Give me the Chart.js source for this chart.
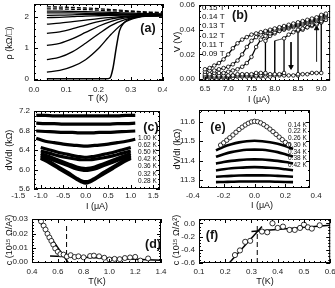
<!DOCTYPE html>
<html>
<head>
<meta charset="utf-8">
<script src="https://cdn.jsdelivr.net/npm/chart.js@4.4.1/dist/chart.umd.min.js"></script>
<style>
body{margin:0;background:#fff;width:335px;height:288px;position:relative;overflow:hidden;font-family:"Liberation Sans",Arial,sans-serif;color:#111}
canvas{position:absolute}
.t{position:absolute;white-space:nowrap;font-size:9px;line-height:1;transform:translate(-50%,-50%)}
.r{transform:translate(-50%,-50%) rotate(-90deg)}
.p{position:absolute;font-weight:bold;font-size:12.5px;line-height:1;transform:translate(-50%,-50%)}
.k{position:absolute;white-space:nowrap;font-size:6.5px;line-height:1;transform:translateY(-50%)}
.f{position:absolute;white-space:nowrap;font-size:8px;line-height:1;transform:translateY(-50%)}
</style>
</head>
<body>
<script>
// (a) resistivity vs temperature
const tA = [0.04, 0.08, 0.12, 0.16, 0.20, 0.24, 0.28, 0.32, 0.36, 0.40];
const rhoCurves = [
    [2.33, 2.32, 2.31, 2.29, 2.27, 2.24, 2.21, 2.18, 2.16, 2.14],
    [2.26, 2.26, 2.25, 2.24, 2.22, 2.20, 2.18, 2.16, 2.14, 2.13],
    [2.19, 2.19, 2.18, 2.17, 2.16, 2.15, 2.13, 2.12, 2.11, 2.10],
    [2.13, 2.13, 2.13, 2.12, 2.12, 2.11, 2.10, 2.09, 2.09, 2.08],
    [2.05, 2.06, 2.07, 2.08, 2.08, 2.08, 2.08, 2.08, 2.07, 2.07],
    [1.98, 1.99, 2.01, 2.03, 2.04, 2.05, 2.06, 2.06, 2.06, 2.06],
    [1.77, 1.80, 1.85, 1.90, 1.95, 1.99, 2.02, 2.04, 2.05, 2.05],
    [1.47, 1.52, 1.62, 1.74, 1.85, 1.94, 2.00, 2.03, 2.04, 2.05],
    [1.08, 1.15, 1.30, 1.50, 1.70, 1.86, 1.96, 2.02, 2.04, 2.04],
    [0.62, 0.70, 0.88, 1.15, 1.45, 1.73, 1.91, 2.00, 2.03, 2.04],
    [0.22, 0.27, 0.40, 0.62, 0.98, 1.45, 1.82, 1.98, 2.03, 2.04]
];
const tSc = [0.04, 0.10, 0.16, 0.20, 0.225, 0.235, 0.245, 0.255, 0.265, 0.28, 0.30, 0.33, 0.36, 0.40];
const rhoSc = [0, 0, 0, 0, 0, 0.02, 0.35, 1.0, 1.55, 1.82, 1.95, 2.02, 2.06, 2.08];

// (b) V-I curves
const fieldLabels = ['0.15 T', '0.14 T', '0.13 T', '0.12 T', '0.11 T', '0.09 T'];
const iB = [6.5, 6.6, 6.7, 6.8, 6.9, 7.0, 7.1, 7.2, 7.3, 7.4, 7.5, 7.6, 7.7, 7.8, 7.9, 8.0, 8.1, 8.2, 8.3, 8.4, 8.5, 8.6, 8.7, 8.8, 8.9, 9.0, 9.1];
const v15 = [0.008, 0.009, 0.011, 0.013, 0.016, 0.020, 0.025, 0.029, 0.032, 0.034, 0.036, 0.037, 0.038, 0.039, 0.040, 0.041, 0.042, 0.043, 0.044, 0.045, 0.046, 0.047, 0.048, 0.049, 0.050, 0.052, 0.053];
const v14 = [0.006, 0.007, 0.007, 0.008, 0.009, 0.010, 0.012, 0.015, 0.020, 0.026, 0.031, 0.034, 0.036, 0.038, 0.039, 0.040, 0.041, 0.042, 0.043, 0.044, 0.045, 0.046, 0.047, 0.048, 0.049, 0.051, 0.052];
const v13 = [0.004, 0.004, 0.005, 0.005, 0.005, 0.006, 0.007, 0.008, 0.010, 0.013, 0.018, 0.026, 0.032, 0.035, 0.037, 0.038, 0.039, 0.041, 0.042, 0.043, 0.044, 0.045, 0.046, 0.047, 0.048, 0.050, 0.051];
const i12 = [6.5, 6.6, 6.7, 6.8, 6.9, 7.0, 7.1, 7.2, 7.3, 7.4, 7.5, 7.6, 7.7, 7.8, 7.8, 7.9, 8.0, 8.1, 8.2, 8.3, 8.4, 8.5, 8.6, 8.7, 8.8, 8.9, 9.0, 9.1];
const v12 = [0.003, 0.003, 0.003, 0.003, 0.003, 0.003, 0.003, 0.004, 0.004, 0.004, 0.004, 0.005, 0.005, 0.005, 0.031, 0.035, 0.037, 0.039, 0.040, 0.041, 0.042, 0.043, 0.044, 0.045, 0.046, 0.047, 0.049, 0.050];
const i11 = [6.5, 6.6, 6.7, 6.8, 6.9, 7.0, 7.1, 7.2, 7.3, 7.4, 7.5, 7.6, 7.7, 7.8, 7.9, 8.0, 8.1, 8.2, 8.2, 8.3, 8.4, 8.5, 8.6, 8.7, 8.8, 8.9, 9.0, 9.1];
const v11 = [0.002, 0.002, 0.002, 0.002, 0.002, 0.002, 0.003, 0.003, 0.003, 0.003, 0.003, 0.003, 0.003, 0.004, 0.004, 0.004, 0.004, 0.005, 0.033, 0.036, 0.038, 0.040, 0.041, 0.042, 0.044, 0.045, 0.047, 0.048];
const i11Down = [8.2, 8.1, 8.0, 8.0];
const v11Down = [0.033, 0.032, 0.031, 0.004];
const i09 = [6.5, 6.6, 6.7, 6.8, 6.9, 7.0, 7.1, 7.2, 7.3, 7.4, 7.5, 7.6, 7.7, 7.8, 7.9, 8.0, 8.1, 8.2, 8.3, 8.4, 8.5, 8.6, 8.7, 8.8, 8.9, 9.0, 9.0, 9.1];
const v09 = [0.001, 0.001, 0.001, 0.001, 0.001, 0.001, 0.001, 0.002, 0.002, 0.002, 0.002, 0.002, 0.002, 0.002, 0.002, 0.003, 0.003, 0.003, 0.003, 0.003, 0.004, 0.004, 0.004, 0.005, 0.005, 0.005, 0.046, 0.048];
const i09Down = [9.0, 8.9, 8.8, 8.7, 8.6, 8.5, 8.5];
const v09Down = [0.046, 0.044, 0.043, 0.042, 0.040, 0.039, 0.003];
const arrowDownI = [8.35, 8.35];
const arrowDownV = [0.030, 0.010];
const arrowUpI = [8.9, 8.9];
const arrowUpV = [0.014, 0.041];

// (c) dV/dI vs I, wide current range
const tempLabelsC = ['1.00 K', '0.62 K', '0.50 K', '0.42 K', '0.36 K', '0.32 K', '0.28 K'];
const iC = [-1.1, -0.9, -0.7, -0.5, -0.3, -0.15, 0, 0.15, 0.3, 0.5, 0.7, 0.9, 1.1];
const flatC = [
    [7.11, 7.11, 7.10, 7.10, 7.10, 7.10, 7.10, 7.10, 7.10, 7.10, 7.10, 7.11, 7.11],
    [6.95, 6.94, 6.94, 6.93, 6.93, 6.93, 6.93, 6.93, 6.93, 6.93, 6.94, 6.94, 6.95],
    [6.79, 6.78, 6.77, 6.76, 6.76, 6.75, 6.75, 6.75, 6.76, 6.76, 6.77, 6.78, 6.79],
    [6.64, 6.58, 6.55, 6.52, 6.50, 6.49, 6.48, 6.49, 6.50, 6.52, 6.55, 6.58, 6.62]
];
const iC2 = [-1.0, -0.8, -0.6, -0.4, -0.2, -0.1, 0, 0.1, 0.2, 0.4, 0.6, 0.8, 1.0];
const dipC = [
    [6.45, 6.40, 6.35, 6.31, 6.27, 6.26, 6.25, 6.26, 6.27, 6.31, 6.35, 6.40, 6.45],
    [6.38, 6.33, 6.28, 6.24, 6.21, 6.20, 6.20, 6.20, 6.21, 6.24, 6.28, 6.33, 6.38],
    [6.33, 6.26, 6.19, 6.12, 6.05, 6.03, 6.02, 6.03, 6.05, 6.12, 6.19, 6.26, 6.33],
    [6.29, 6.22, 6.15, 6.08, 6.01, 5.99, 5.98, 5.99, 6.01, 6.08, 6.15, 6.22, 6.29],
    [6.26, 6.16, 6.05, 5.94, 5.82, 5.77, 5.75, 5.77, 5.82, 5.94, 6.05, 6.16, 6.26],
    [6.23, 6.13, 6.02, 5.91, 5.80, 5.75, 5.72, 5.75, 5.80, 5.91, 6.02, 6.13, 6.23]
];

// (e) dV/dI vs I, narrow current range
const tempLabelsE = ['0.14 K', '0.22 K', '0.26 K', '0.30 K', '0.34 K', '0.38 K', '0.42 K'];
const iE14 = [-0.22, -0.20, -0.18, -0.16, -0.14, -0.12, -0.10, -0.08, -0.06, -0.04, -0.02, 0, 0.02, 0.04, 0.06, 0.08, 0.10, 0.12, 0.14, 0.16, 0.18, 0.20, 0.22];
const dvE14 = [11.480, 11.492, 11.505, 11.518, 11.532, 11.546, 11.560, 11.572, 11.583, 11.592, 11.599, 11.602, 11.600, 11.594, 11.585, 11.574, 11.562, 11.549, 11.535, 11.521, 11.508, 11.494, 11.482];
const iE = [-0.25, -0.2, -0.15, -0.1, -0.05, 0, 0.05, 0.1, 0.15, 0.2, 0.25];
const dvE = [
    [11.453, 11.471, 11.484, 11.494, 11.500, 11.502, 11.500, 11.495, 11.487, 11.475, 11.460],
    [11.420, 11.433, 11.444, 11.451, 11.456, 11.457, 11.456, 11.451, 11.444, 11.433, 11.421],
    [11.385, 11.393, 11.399, 11.403, 11.406, 11.407, 11.406, 11.403, 11.399, 11.393, 11.386],
    [11.350, 11.356, 11.361, 11.364, 11.366, 11.367, 11.366, 11.364, 11.361, 11.356, 11.351],
    [11.318, 11.320, 11.322, 11.324, 11.325, 11.325, 11.325, 11.324, 11.322, 11.320, 11.318],
    [11.290, 11.291, 11.292, 11.293, 11.293, 11.293, 11.293, 11.293, 11.292, 11.291, 11.290]
];

// (d) coefficient c vs T
const dT = [0.47, 0.49, 0.505, 0.52, 0.535, 0.55, 0.565, 0.58, 0.60, 0.62, 0.645, 0.67, 0.70, 0.73, 0.76, 0.80, 0.85, 0.88, 0.92, 0.96, 1.00, 1.04, 1.08, 1.12, 1.16, 1.20, 1.24, 1.30];
const dC = [0.0285, 0.0255, 0.0228, 0.0198, 0.0172, 0.0148, 0.0122, 0.0095, 0.0072, 0.0055, 0.0052, 0.0038, 0.0048, 0.0035, 0.0040, 0.0033, 0.0042, 0.0045, 0.0040, 0.0030, 0.0018, 0.0022, 0.0020, 0.0028, 0.0032, 0.0036, 0.0010, 0.0025];
const fitSteepDT = [0.447, 0.683];
const fitSteepDC = [0.0300, -0.0006];
const fitFlatDT = [0.54, 1.40];
const fitFlatDC = [0.0042, 0.0012];
const tcD = [0.668, 0.668];
const tcDC = [-0.0007, 0.026];

// (f) coefficient c vs T
const fT = [0.237, 0.256, 0.276, 0.295, 0.340, 0.360, 0.380, 0.400, 0.420, 0.445, 0.465, 0.485, 0.500, 0.515, 0.530, 0.560];
const fC = [-0.48, -0.41, -0.28, -0.265, -0.125, -0.135, 0.0, -0.07, -0.05, -0.10, -0.10, -0.07, -0.02, -0.06, -0.08, -0.03];
const fitSteepFT = [0.215, 0.34];
const fitSteepFC = [-0.6, -0.05];
const fitFlatFT = [0.30, 0.60];
const fitFlatFC = [-0.125, -0.03];
const tcF = [0.322, 0.322];
const tcFC = [-0.6, -0.03];

// tick labels
const ticksAx = [0, 0.1, 0.2, 0.3, 0.4], ticksAy = [0, 1, 2];
const ticksBx = [6.5, 7.0, 7.5, 8.0, 8.5, 9.0], ticksBy = [0, 0.02, 0.04, 0.06];
const ticksCx = [-1.5, -1.0, -0.5, 0, 0.5, 1.0, 1.5], ticksCy = [5.6, 6.0, 6.4, 6.8, 7.2];
const ticksEx = [-0.4, -0.2, 0, 0.2, 0.4], ticksEy = [11.3, 11.4, 11.5, 11.6];
const ticksDx = [0.4, 0.6, 0.8, 1.0, 1.2, 1.4], ticksDy = [0, 0.01, 0.02, 0.03];
const ticksFx = [0.1, 0.2, 0.3, 0.4, 0.5, 0.6], ticksFy = [-0.6, -0.4, -0.2, 0];

const FONT = '"Liberation Sans", Arial, sans-serif';
Chart.defaults.font.family = FONT;

const pts = (xs, ys) => xs.map((x, i) => ({x, y: ys[i]}));
const line = (xs, ys, o = {}) => Object.assign({
    data: pts(xs, ys), showLine: true, borderColor: '#000', backgroundColor: '#000',
    borderWidth: 1.4, pointRadius: 0, tension: 0
}, o);
const smooth = {cubicInterpolationMode: 'monotone'};
const openDots = r => ({pointRadius: r, pointBorderWidth: 0.8, pointBackgroundColor: '#fff', pointBorderColor: '#000'});

// box around the plot with inward ticks on all sides
const framePlugin = {
    id: 'frame',
    afterDatasetsDraw(chart, args, opts) {
        const {ctx, chartArea: a, scales} = chart;
        ctx.save();
        ctx.strokeStyle = '#000';
        ctx.lineWidth = 1;
        ctx.strokeRect(a.left + 0.5, a.top + 0.5, a.right - a.left - 1, a.bottom - a.top - 1);
        const mark = (scale, horiz, n) => {
            const vals = scale.ticks.map(t => t.value);
            const step = (vals[1] - vals[0]) / n;
            const k0 = Math.ceil((scale.min - vals[0]) / step - 1e-6);
            const k1 = Math.floor((scale.max - vals[0]) / step + 1e-6);
            ctx.beginPath();
            for (let k = k0; k <= k1; k++) {
                const len = ((k % n) + n) % n === 0 ? 4 : 2;
                const p = Math.round(scale.getPixelForValue(vals[0] + k * step)) + 0.5;
                if (horiz) {
                    ctx.moveTo(p, a.bottom); ctx.lineTo(p, a.bottom - len);
                    ctx.moveTo(p, a.top); ctx.lineTo(p, a.top + len);
                } else {
                    ctx.moveTo(a.left, p); ctx.lineTo(a.left + len, p);
                    ctx.moveTo(a.right, p); ctx.lineTo(a.right - len, p);
                }
            }
            ctx.stroke();
        };
        mark(scales.x, true, opts.xn);
        mark(scales.y, false, opts.yn);
        ctx.restore();
    }
};

function makePanel(box, plot, xa, ya, datasets) {
    const [cx, cy, cw, ch] = box;
    const [px1, py1, px2, py2] = plot;
    const cv = document.createElement('canvas');
    cv.width = cw;
    cv.height = ch;
    cv.style.left = cx + 'px';
    cv.style.top = cy + 'px';
    document.body.appendChild(cv);
    const axis = (a, size, horiz) => ({
        type: 'linear', min: a.min, max: a.max,
        grid: {display: false, drawTicks: false},
        border: {display: false},
        ticks: {
            autoSkip: false, padding: a.pad, color: '#222',
            font: {size: 8, family: FONT},
            callback: v => v.toFixed(a.dec)
        },
        afterBuildTicks: s => { s.ticks = a.ticks.map(v => ({value: v})); },
        afterFit: s => {
            if (horiz) s.height = size; else s.width = size;
            s.paddingLeft = s.paddingRight = s.paddingTop = s.paddingBottom = 0;
        }
    });
    return new Chart(cv, {
        type: 'scatter',
        data: {datasets},
        options: {
            responsive: false, animation: false, events: [],
            layout: {padding: {top: py1 - cy, right: cx + cw - px2, left: 0, bottom: 0}},
            plugins: {legend: {display: false}, tooltip: {enabled: false}, frame: {xn: xa.n, yn: ya.n}},
            scales: {x: axis(xa, cy + ch - py2, true), y: axis(ya, px1 - cx, false)}
        },
        plugins: [framePlugin]
    });
}

// panel (a)
makePanel([0, 0, 167, 95], [34, 4, 163, 81],
    {min: 0, max: 0.4, ticks: ticksAx, dec: 1, n: 5, pad: 4},
    {min: -0.07, max: 2.42, ticks: ticksAy, dec: 0, n: 5, pad: 5},
    rhoCurves.map((r, i) => line(tA, r, Object.assign({borderDash: i < 2 ? [4, 2] : [], borderWidth: 1.3}, smooth)))
        .concat([line(tSc, rhoSc, Object.assign({borderWidth: 1.5}, smooth))]));

// panel (b)
const dotsB = Object.assign({borderWidth: 1.3}, openDots(1.8));
makePanel([167, 0, 168, 95], [199, 5, 331, 81],
    {min: 6.372, max: 9.19, ticks: ticksBx, dec: 1, n: 5, pad: 3},
    {min: -0.0015, max: 0.06, ticks: ticksBy, dec: 2, n: 4, pad: 4},
    [
        line(iB, v15, dotsB), line(iB, v14, dotsB), line(iB, v13, dotsB),
        line(i12, v12, dotsB), line(i11, v11, dotsB), line(i11Down, v11Down, {borderWidth: 0.8}),
        line(i09, v09, dotsB), line(i09Down, v09Down, dotsB),
        line(arrowDownI, arrowDownV, {borderWidth: 0.9, pointRadius: [0, 2.6], pointStyle: 'triangle', pointRotation: 180}),
        line(arrowUpI, arrowUpV, {borderWidth: 0.9, pointRadius: [0, 2.6], pointStyle: 'triangle'})
    ]);

// panel (c)
makePanel([0, 100, 167, 100], [34, 111, 160, 189],
    {min: -1.15, max: 1.65, ticks: ticksCx, dec: 1, n: 5, pad: 2},
    {min: 5.6, max: 7.2, ticks: ticksCy, dec: 1, n: 4, pad: 4},
    flatC.map(v => line(iC, v, Object.assign({borderWidth: 3.2}, smooth)))
        .concat(dipC.map(v => line(iC2, v, Object.assign({borderWidth: 3.2}, smooth)))));

// panel (e)
makePanel([167, 100, 168, 100], [199, 110, 310, 188],
    {min: -0.36, max: 0.36, ticks: ticksEx, dec: 1, n: 4, pad: 3},
    {min: 11.26, max: 11.66, ticks: ticksEy, dec: 1, n: 2, pad: 4},
    [line(iE14, dvE14, Object.assign({showLine: false}, openDots(2.2)))]
        .concat(dvE.map(v => line(iE, v, Object.assign({borderWidth: 2.6}, smooth)))));

// panel (d)
makePanel([0, 210, 167, 68], [32, 219, 161, 263],
    {min: 0.4, max: 1.4, ticks: ticksDx, dec: 1, n: 4, pad: 4},
    {min: -0.0007, max: 0.0302, ticks: ticksDy, dec: 2, n: 5, pad: 4},
    [
        line(dT, dC, Object.assign({showLine: false}, openDots(2.5))),
        line(fitSteepDT, fitSteepDC, {borderWidth: 1.5}),
        line(fitFlatDT, fitFlatDC, {borderWidth: 1.5}),
        line(tcD, tcDC, {borderWidth: 1, borderDash: [5, 3]})
    ]);

// panel (f)
makePanel([167, 210, 168, 68], [199, 219, 331, 263],
    {min: 0.1, max: 0.6, ticks: ticksFx, dec: 1, n: 5, pad: 4},
    {min: -0.6, max: 0.065, ticks: ticksFy, dec: 1, n: 4, pad: 4},
    [
        line(fT, fC, Object.assign({showLine: false}, openDots(2.6))),
        line(fitSteepFT, fitSteepFC, {borderWidth: 1.5}),
        line(fitFlatFT, fitFlatFC, {borderWidth: 1.5}),
        line(tcF, tcFC, {borderWidth: 1, borderDash: [5, 3]})
    ]);

// text: axis titles, panel letters, curve labels
function addText(cls, text, x, y, extra) {
    const el = document.createElement('div');
    el.className = cls;
    el.textContent = text;
    el.style.left = x + 'px';
    el.style.top = y + 'px';
    if (extra) Object.assign(el.style, extra);
    document.body.appendChild(el);
}
addText('t r', 'ρ (kΩ/□)', 9, 43);
addText('t r', 'V (V)', 177, 42);
addText('t r', 'dV/dI (kΩ)', 9, 150);
addText('t r', 'dV/dI (kΩ)', 177, 149);
addText('t r', 'c (10¹⁵ Ω/A²)', 9, 240);
addText('t r', 'c (10¹⁵ Ω/A²)', 176, 240);
addText('t', 'T (K)', 98, 98);
addText('t', 'I (μA)', 259, 99);
addText('t', 'I (μA)', 97, 206);
addText('t', 'I (μA)', 262, 205);
addText('t', 'T(K)', 97, 281);
addText('t', 'T(K)', 265, 281);
addText('p', '(a)', 148, 28);
addText('p', '(b)', 240, 15);
addText('p', '(c)', 151, 127);
addText('p', '(e)', 218, 127);
addText('p', '(d)', 153, 244);
addText('p', '(f)', 212, 235);
fieldLabels.forEach((s, i) => addText('f', s, 202, 8 + 9.2 * i));
tempLabelsC.forEach((s, i) => addText('k', s, 138, 138 + 7.1 * i));
tempLabelsE.forEach((s, i) => addText('k', s, 288, 124.5 + 6.75 * i));
</script>
</body>
</html>
